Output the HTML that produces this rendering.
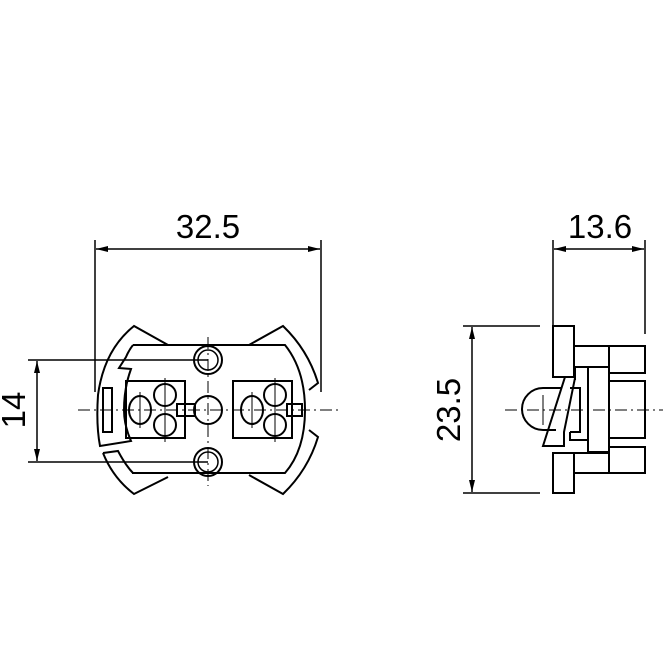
<!DOCTYPE html>
<html><head><style>html,body{margin:0;padding:0;background:#fff}</style></head><body>
<svg width="663" height="663" viewBox="0 0 663 663" xmlns="http://www.w3.org/2000/svg" font-family="Liberation Sans, sans-serif">
<defs>
<marker id="a" viewBox="0 0 12 6" refX="12" refY="3" markerWidth="12" markerHeight="6" orient="auto-start-reverse" markerUnits="userSpaceOnUse"><path d="M0,0L12,3L0,6z" fill="#000"/></marker>
</defs>
<g stroke="#000" stroke-width="1.5" fill="none">
<!-- dimension 32.5 -->
<line x1="95" y1="240" x2="95" y2="392"/>
<line x1="321" y1="240" x2="321" y2="392"/>
<line x1="96" y1="249" x2="320" y2="249" marker-start="url(#a)" marker-end="url(#a)"/>
<!-- dimension 14 -->
<line x1="28" y1="360" x2="208" y2="360"/>
<line x1="28" y1="462" x2="208" y2="462"/>
<line x1="37" y1="361" x2="37" y2="461" marker-start="url(#a)" marker-end="url(#a)"/>
<!-- centerlines -->
<line x1="78" y1="410" x2="338" y2="410" stroke-width="1" stroke-dasharray="12,4,2,4"/>
<line x1="208" y1="337" x2="208" y2="486" stroke-width="1" stroke-dasharray="12,4,2,4"/>
<g stroke-width="2">
<!-- left wings -->
<path d="M168,345 L134,326 Q104,350 98,395 Q96,425 100,446 L131,441 Q124,425 124,410 Q124,388 131,369 L119,368 L126,357 Q129,350 133,345"/>
<path d="M103,453 L118,451 Q126,466 133,473"/>
<path d="M103,453 Q113,478 134,494 L168,477"/>
<!-- right wings -->
<path d="M249,345 L283,326 Q308,350 318,383 L309,390"/>
<path d="M249,475 L283,494 Q308,470 318,437 L309,430"/>
<!-- inner body -->
<path d="M133,345 L285,345 Q305,370 305,410 Q305,450 285,473 L132,473"/>
<rect x="103" y="388" width="9" height="44"/>
<!-- holes -->
<circle cx="208" cy="360" r="14"/><circle cx="208" cy="360" r="10" stroke-width="1.5"/>
<circle cx="208" cy="462" r="14"/><circle cx="208" cy="462" r="10" stroke-width="1.5"/>
<circle cx="208" cy="410" r="14"/>
<!-- blocks -->
<rect x="126" y="381" width="59" height="57"/>
<rect x="233" y="381" width="59" height="57"/>
<ellipse cx="140" cy="410" rx="11" ry="14"/>
<circle cx="165" cy="395" r="11"/>
<circle cx="165" cy="425" r="11"/>
<ellipse cx="252" cy="410" rx="11" ry="14"/>
<circle cx="275" cy="395" r="11"/>
<circle cx="275" cy="425" r="11"/>
<rect x="177" y="404" width="18" height="12"/>
<rect x="287" y="404" width="15" height="12"/>
</g>
<line x1="140" y1="392" x2="140" y2="428" stroke-width="1"/>
<line x1="165" y1="378" x2="165" y2="442" stroke-width="1"/>
<line x1="252" y1="392" x2="252" y2="428" stroke-width="1"/>
<line x1="275" y1="378" x2="275" y2="442" stroke-width="1"/>

<!-- right view dims -->
<line x1="553" y1="240" x2="553" y2="326"/>
<line x1="645" y1="240" x2="645" y2="334"/>
<line x1="554" y1="249" x2="644" y2="249" marker-start="url(#a)" marker-end="url(#a)"/>
<line x1="463" y1="326" x2="540" y2="326"/>
<line x1="463" y1="493" x2="540" y2="493"/>
<line x1="472" y1="327" x2="472" y2="492" marker-start="url(#a)" marker-end="url(#a)"/>
<line x1="505" y1="410" x2="663" y2="410" stroke-width="1" stroke-dasharray="12,4,2,4"/>
<!-- right view parts -->
<g stroke-width="2">
<path d="M553,326 L574,326 L574,377 L553,377 Z"/>
<rect x="553" y="453" width="21" height="40"/>
<rect x="574" y="346" width="35" height="21"/>
<rect x="609" y="346" width="36" height="27"/>
<rect x="609" y="381" width="36" height="57"/>
<rect x="574" y="453" width="35" height="20"/>
<rect x="609" y="447" width="36" height="26"/>
<path d="M588,367 L609,367 L609,452 L588,452 Z"/>
<path d="M575,367 L575,380"/>
<path d="M570,432 L570,440 L588,440"/>
<path d="M565,377 L543,446 L564,446 L564,432 L575,378"/>
<path d="M570,388 L580,388 L580,432 L570,432"/>
<path d="M562,388 L543,388 A21,21 0 0 0 543,430 L556,430"/>
</g>
<line x1="543" y1="395" x2="543" y2="425" stroke-width="1"/>
</g>
<g font-size="33" fill="#000">
<text x="208" y="238" text-anchor="middle">32.5</text>
<text x="600" y="238" text-anchor="middle">13.6</text>
<text transform="translate(25,410) rotate(-90)" text-anchor="middle">14</text>
<text transform="translate(460,410) rotate(-90)" text-anchor="middle">23.5</text>
</g>
</svg>
</body></html>
